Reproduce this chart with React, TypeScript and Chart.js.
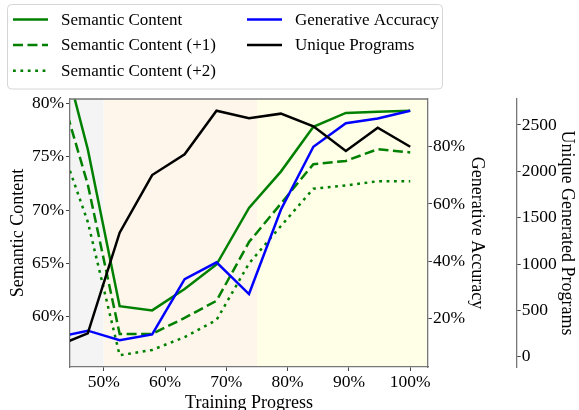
import React, { useEffect, useRef } from "react";
import { Chart, registerables } from "chart.js";

Chart.register(...registerables);

// ---- data ----
const progress = [42.1, 47.4, 52.6, 57.9, 63.2, 68.4, 73.7, 78.9, 84.2, 89.5, 94.7, 100];
const semanticContent = [87.4, 75.7, 61.0, 60.6, 62.6, 64.9, 70.2, 73.6, 77.8, 79.1, 79.2, 79.3];
const semanticContent1 = [82.8, 72.4, 58.4, 58.4, 59.9, 61.5, 67.0, 70.6, 74.3, 74.6, 75.7, 75.4];
const semanticContent2 = [77.6, 68.9, 56.4, 56.9, 58.1, 59.7, 65.0, 68.5, 72.0, 72.3, 72.7, 72.7];
const generativeAccuracy = [13.3, 15.7, 12.4, 14.4, 33.7, 39.6, 28.5, 58.0, 80.0, 88.2, 89.9, 92.6];
const uniquePrograms = [108, 252, 1338, 1960, 2183, 2654, 2572, 2622, 2485, 2219, 2470, 2265];

const xTicks = [50, 60, 70, 80, 90, 100];
const semTicks = [60, 65, 70, 75, 80];
const accTicks = [20, 40, 60, 80];
const progTicks = [0, 500, 1000, 1500, 2000, 2500];

const phaseBounds = [40, 50, 75, 110];
const phaseColors = ["#f4f4f4", "#fef6ea", "#ffffe8"];

const FONT = "'Liberation Serif', 'Times New Roman', serif";
const SPINE = "#777";
const TICKC = "#444";

const pts = (ys: number[]) => progress.map((x, i) => ({ x, y: ys[i] }));

const phasePlugin = {
  id: "phases",
  beforeDraw(chart: any) {
    const { ctx, chartArea } = chart;
    const xs = chart.scales.x;
    ctx.save();
    for (let i = 0; i < phaseColors.length; i++) {
      const a = Math.max(chartArea.left, xs.getPixelForValue(phaseBounds[i]));
      const b = Math.min(chartArea.right, xs.getPixelForValue(phaseBounds[i + 1]));
      if (b > a) {
        ctx.fillStyle = phaseColors[i];
        ctx.fillRect(a, chartArea.top, b - a, chartArea.bottom - chartArea.top);
      }
    }
    ctx.restore();
  },
};

const framePlugin = {
  id: "frameTop",
  afterDraw(chart: any) {
    const { ctx, chartArea } = chart;
    ctx.save();
    ctx.strokeStyle = SPINE;
    ctx.lineWidth = 1.3;
    ctx.beginPath();
    ctx.moveTo(chartArea.left, chartArea.top);
    ctx.lineTo(chartArea.right, chartArea.top);
    ctx.stroke();
    ctx.restore();
  },
};

const legendPlugin = {
  id: "customLegend",
  afterDraw(chart: any) {
    const ctx = chart.ctx;
    ctx.save();
    const x0 = 7.5, y0 = 4.5, w = 435, h = 84.5, r = 4;
    ctx.beginPath();
    ctx.moveTo(x0 + r, y0);
    ctx.lineTo(x0 + w - r, y0);
    ctx.quadraticCurveTo(x0 + w, y0, x0 + w, y0 + r);
    ctx.lineTo(x0 + w, y0 + h - r);
    ctx.quadraticCurveTo(x0 + w, y0 + h, x0 + w - r, y0 + h);
    ctx.lineTo(x0 + r, y0 + h);
    ctx.quadraticCurveTo(x0, y0 + h, x0, y0 + h - r);
    ctx.lineTo(x0, y0 + r);
    ctx.quadraticCurveTo(x0, y0, x0 + r, y0);
    ctx.closePath();
    ctx.fillStyle = "#ffffff";
    ctx.fill();
    ctx.strokeStyle = "#d6d6d6";
    ctx.lineWidth = 1;
    ctx.stroke();

    const cols = [{ hx: 13, tx: 61 }, { hx: 247, tx: 295 }];
    const rows = [19.5, 45, 70.7];
    chart.data.datasets.forEach((ds: any, i: number) => {
      const c = i < 3 ? 0 : 1;
      const rI = i < 3 ? i : i - 3;
      const y = rows[rI];
      ctx.strokeStyle = ds.borderColor;
      ctx.lineWidth = ds.borderWidth;
      ctx.setLineDash(ds.borderDash || []);
      ctx.lineCap = "butt";
      ctx.beginPath();
      ctx.moveTo(cols[c].hx, y);
      ctx.lineTo(cols[c].hx + 35, y);
      ctx.stroke();
      ctx.setLineDash([]);
      ctx.fillStyle = "#000";
      ctx.font = `17px ${FONT}`;
      ctx.textBaseline = "middle";
      ctx.textAlign = "left";
      ctx.fillText(ds.label, cols[c].tx, y + 1);
    });
    ctx.restore();
  },
};

const tickFont = { family: FONT, size: 17.5 };
const titleFont = { family: FONT, size: 18, lineHeight: 1 };

export default function App() {
  const ref = useRef<HTMLCanvasElement | null>(null);

  useEffect(() => {
    if (!ref.current) return;
    const chart = new Chart(ref.current, {
      type: "line",
      data: {
        datasets: [
          { label: "Semantic Content", data: pts(semanticContent), yAxisID: "y", borderColor: "#008000", borderWidth: 2.5, order: 5 },
          { label: "Semantic Content (+1)", data: pts(semanticContent1), yAxisID: "y", borderColor: "#008000", borderWidth: 2.5, borderDash: [10, 4.5], order: 4 },
          { label: "Semantic Content (+2)", data: pts(semanticContent2), yAxisID: "y", borderColor: "#008000", borderWidth: 2.5, borderDash: [2.8, 4.6], order: 3 },
          { label: "Generative Accuracy", data: pts(generativeAccuracy), yAxisID: "y1", borderColor: "#0000ff", borderWidth: 2.5, order: 2 },
          { label: "Unique Programs", data: pts(uniquePrograms), yAxisID: "y2", borderColor: "#000000", borderWidth: 2.5, order: 1 },
        ] as any,
      },
      options: {
        responsive: false,
        animation: false,
        devicePixelRatio: 1,
        layout: { padding: { top: 99, left: 0, right: 0, bottom: 0 } },
        elements: { point: { radius: 0, hoverRadius: 0 }, line: { tension: 0, fill: false } },
        plugins: { legend: { display: false }, tooltip: { enabled: false } },
        scales: {
          x: {
            type: "linear",
            min: 44.5,
            max: 102.9,
            afterBuildTicks: (s: any) => { s.ticks = xTicks.map((v) => ({ value: v })); },
            afterFit: (s: any) => { s.height = 43; },
            ticks: { callback: (v: any) => v + "%", font: tickFont, color: "#000", padding: 1, maxRotation: 0, autoSkip: false },
            grid: { drawOnChartArea: false, drawTicks: true, tickLength: 4, color: TICKC },
            border: { display: true, color: SPINE, width: 1.3 },
            title: { display: true, text: "Training Progress", font: titleFont, color: "#000", padding: { top: 0, bottom: -2 } },
          },
          y: {
            type: "linear",
            position: "left",
            min: 55.3,
            max: 80.4,
            afterBuildTicks: (s: any) => { s.ticks = semTicks.map((v) => ({ value: v })); },
            afterFit: (s: any) => { s.width = 70; },
            ticks: { callback: (v: any) => v + "%", font: tickFont, color: "#000", padding: 2 },
            grid: { drawOnChartArea: false, drawTicks: true, tickLength: 4, color: TICKC },
            border: { display: true, color: SPINE, width: 1.3 },
            title: { display: true, text: "Semantic Content", font: titleFont, color: "#000", padding: { top: 9, bottom: 0 } },
          },
          y1: {
            type: "linear",
            position: "right",
            weight: 1,
            min: 3.0,
            max: 96.7,
            afterBuildTicks: (s: any) => { s.ticks = accTicks.map((v) => ({ value: v })); },
            afterFit: (s: any) => { s.width = 88.7; },
            ticks: { callback: (v: any) => v + "%", font: tickFont, color: "#000", padding: 1 },
            grid: { drawOnChartArea: false, drawTicks: true, tickLength: 4, color: TICKC },
            border: { display: true, color: SPINE, width: 1.3 },
            title: { display: true, text: "Generative Accuracy", font: titleFont, color: "#000", padding: { top: 31, bottom: 0 } },
          },
          y2: {
            type: "linear",
            position: "right",
            weight: 2,
            min: -111,
            max: 2780,
            afterBuildTicks: (s: any) => { s.ticks = progTicks.map((v) => ({ value: v })); },
            afterFit: (s: any) => { s.width = 62.3; },
            ticks: { callback: (v: any) => String(v), font: tickFont, color: "#000", padding: 1 },
            grid: { drawOnChartArea: false, drawTicks: true, tickLength: 4, color: TICKC },
            border: { display: true, color: SPINE, width: 1.3 },
            title: { display: true, text: "Unique Generated Programs", font: titleFont, color: "#000", padding: { top: 3.3, bottom: 0 } },
          },
        },
      } as any,
      plugins: [phasePlugin, framePlugin, legendPlugin],
    });
    return () => chart.destroy();
  }, []);

  return (
    <div style={{ position: "fixed", left: 0, top: 0, width: 579, height: 410, background: "#fff" }}>
      <canvas ref={ref} width={579} height={410} style={{ display: "block" }} />
    </div>
  );
}
